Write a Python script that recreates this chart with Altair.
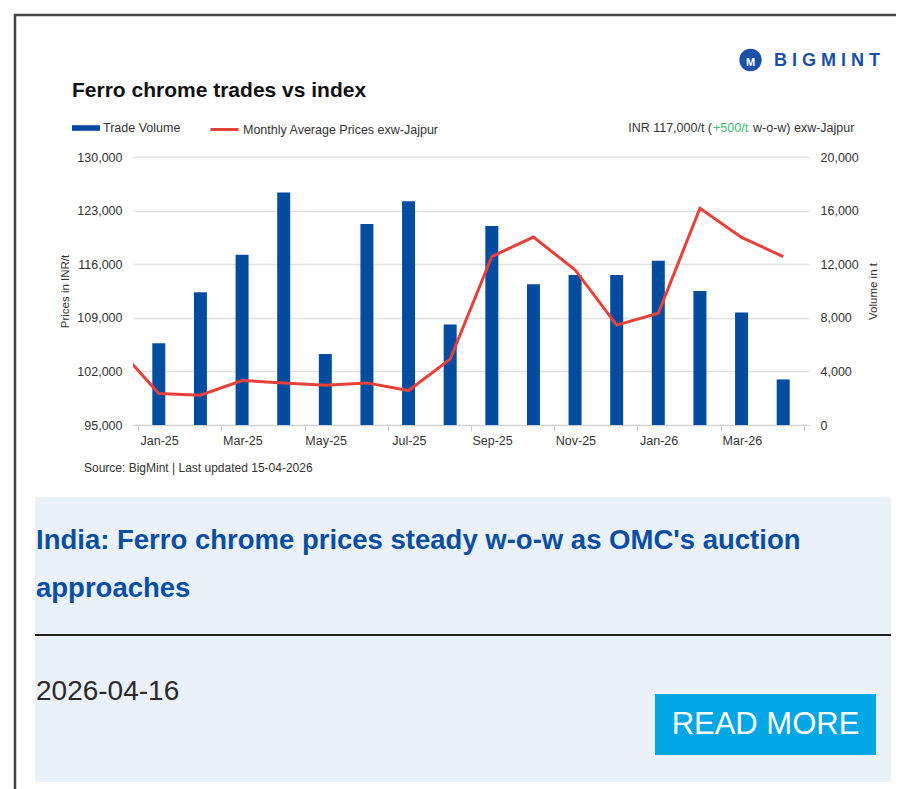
import altair as alt
import pandas as pd

# ---- data ----
months = ["Jan-25", "Feb-25", "Mar-25", "Apr-25", "May-25", "Jun-25", "Jul-25", "Aug-25",
          "Sep-25", "Oct-25", "Nov-25", "Dec-25", "Jan-26", "Feb-26", "Mar-26", "Apr-26"]
volume = [6100, 9900, 12700, 17350, 5300, 15000, 16700, 7500,
          14850, 10500, 11200, 11200, 12250, 10000, 8400, 3400]
price_months = ["Dec-24"] + months
prices = [105200, 99100, 98900, 100800, 100500, 100200, 100500, 99500, 103600,
          117000, 119550, 115250, 108050, 109600, 123300, 119500, 117000]
price_ticks = [95000, 102000, 109000, 116000, 123000, 130000]
volume_ticks = [0, 4000, 8000, 12000, 16000, 20000]

FONT = "Liberation Sans"
BLUE = "#044ca0"
RED = "#e8403a"
TXT = "#333333"

bars_df = pd.DataFrame({"idx": list(range(len(months))), "month": months,
                        "volume": volume, "series": "Trade Volume"})
line_df = pd.DataFrame({"idx": list(range(-1, len(months))), "month": price_months,
                        "price": prices, "series": "Monthly Average Prices exw-Jajpur"})

W, H = 676, 268
n = len(months)
tick_vals = [i - 0.5 for i in range(0, n + 1, 2)]
label_list = [months[i] if (i % 2 == 0 and i < n) else "" for i in range(n + 1)]
label_expr = "[" + ",".join("'" + m + "'" for m in label_list) + "][round(datum.value + 0.5)] || ''"

x_scale = alt.Scale(domain=[-0.5, n - 0.5], nice=False, zero=False)
x_axis = alt.Axis(values=tick_vals, labelExpr=label_expr, labelOffset=W / n / 2,
                  grid=False, ticks=True, tickSize=6, tickColor="#d0d0d0",
                  domainColor="#d0d0d0", labelPadding=3, labelFont=FONT,
                  labelFontSize=12.5, labelColor=TXT, labelOverlap=False,
                  labelFlush=False, labelBound=False, title=None)

bars = alt.Chart(bars_df).mark_bar(size=13).encode(
    x=alt.X("idx:Q", scale=x_scale, axis=x_axis),
    y=alt.Y("volume:Q", scale=alt.Scale(domain=[0, 20000], nice=False),
            axis=alt.Axis(orient="right", values=volume_ticks, format=",d", grid=False,
                          ticks=False, domain=False, labelPadding=11, labelFont=FONT,
                          labelFontSize=12.5, labelColor=TXT, title="Volume in t",
                          titleFont=FONT, titleFontSize=11.5, titleFontWeight="normal",
                          titleColor=TXT, titleAngle=270, titleBaseline="top",
                          titlePadding=9)),
    color=alt.Color("series:N", scale=alt.Scale(domain=["Trade Volume"], range=[BLUE]),
                    legend=alt.Legend(title=None, orient="none", legendX=-61, legendY=-43,
                                      symbolType="M-1,-0.2H1V0.2H-1Z", symbolSize=784,
                                      symbolStrokeWidth=0, labelFont=FONT,
                                      labelFontSize=12.5, labelColor=TXT, labelOffset=3,
                                      labelLimit=0, padding=0)),
)

line = alt.Chart(line_df).mark_line(strokeWidth=3, clip=True).encode(
    x=alt.X("idx:Q", scale=x_scale, axis=x_axis),
    y=alt.Y("price:Q", scale=alt.Scale(domain=[95000, 130000], nice=False, zero=False),
            axis=alt.Axis(orient="left", values=price_ticks, format=",d", grid=True,
                          gridColor="#e0e0e0", gridWidth=1.3, ticks=False, domain=False,
                          labelPadding=11, labelFont=FONT, labelFontSize=12.5,
                          labelColor=TXT, title="Prices in INR/t", titleFont=FONT,
                          titleFontSize=11.5, titleFontWeight="normal", titleColor=TXT,
                          titlePadding=6)),
    stroke=alt.Stroke("series:N",
                      scale=alt.Scale(domain=["Monthly Average Prices exw-Jajpur"], range=[RED]),
                      legend=alt.Legend(title=None, orient="none", legendX=76, legendY=-43,
                                        symbolType="M-1,0L1,0", symbolSize=784,
                                        symbolStrokeWidth=3, labelFont=FONT,
                                        labelFontSize=12.5, labelColor=TXT, labelOffset=3,
                                        labelLimit=0, padding=0)),
)

one = pd.DataFrame({"k": [0]})


def rect(x1, x2, y1, y2, color):
    return alt.Chart(one).mark_rect(color=color).encode(
        x=alt.value(x1), x2=alt.value(x2), y=alt.value(y1), y2=alt.value(y2))


def rule(x1, x2, y1, y2, color, width):
    return alt.Chart(one).mark_rule(color=color, strokeWidth=width).encode(
        x=alt.value(x1), x2=alt.value(x2), y=alt.value(y1), y2=alt.value(y2))


def text(s, x, y, size, color=TXT, weight="normal", align="left", baseline="middle",
         font=FONT):
    return alt.Chart(one).mark_text(text=s, fontSize=size, color=color, fontWeight=weight,
                                    align=align, baseline=baseline, font=font).encode(
        x=alt.value(x), y=alt.value(y))


# page decorations (coordinates relative to plot-area origin at page (133,157))
box = rect(-98, 758, 340, 625, "#eaf1f9")
sep = rule(-98, 758, 478, 478, "#222222", 2)
button = rect(522, 743, 537, 598, "#03a7e5")
border_top = rule(-119, 763, -142, -142, "#444444", 2.5)
border_left = rule(-118, -118, -143, 640, "#444444", 2.5)

title = text("Ferro chrome trades vs index", -61, -60, 21, color="#111111", weight="bold",
             baseline="alphabetic")
logo_icon = alt.Chart(one).mark_point(shape="circle", filled=True, size=500, color="#1a4fa8",
                                      opacity=1).encode(x=alt.value(617.5), y=alt.value(-97))
logo_mark = text("M", 617.5, -94, 11, color="white", weight="bold", align="center")
logo_text = text("B I G M I N T", 641, -96, 18, color="#1a4fa8", weight="bold")

ann1 = text("INR 117,000/t (", 579, -29, 12.5, align="right")
ann2 = text("+500/t", 580, -29, 12.5, color="#3dbb78")
ann3 = text("w-o-w) exw-Jajpur", 620, -29, 12.5)

source = text("Source: BigMint | Last updated 15-04-2026", -49, 311, 12)

head1 = text("India: Ferro chrome prices steady w-o-w as OMC's auction", -97, 384, 27.5,
             color="#0a4ea2", weight="bold")
head2 = text("approaches", -97, 432, 27.5, color="#0a4ea2", weight="bold")
date = text("2026-04-16", -97, 535, 28, color="#2a2a2a")
read_more = text("READ MORE", 632.5, 568, 31, color="white", align="center")

chart = alt.layer(
    box, sep, button, border_top, border_left,
    title, logo_icon, logo_mark, logo_text, ann1, ann2, ann3, source,
    head1, head2, date, read_more,
    bars, line,
).resolve_scale(y="independent").properties(
    width=W, height=H, autosize="none",
    padding={"left": 125, "top": 149, "right": 87, "bottom": 364},
    background="white",
).configure_view(stroke=None)

chart.save("out.html", embed_options={"renderer": "svg", "actions": False})
